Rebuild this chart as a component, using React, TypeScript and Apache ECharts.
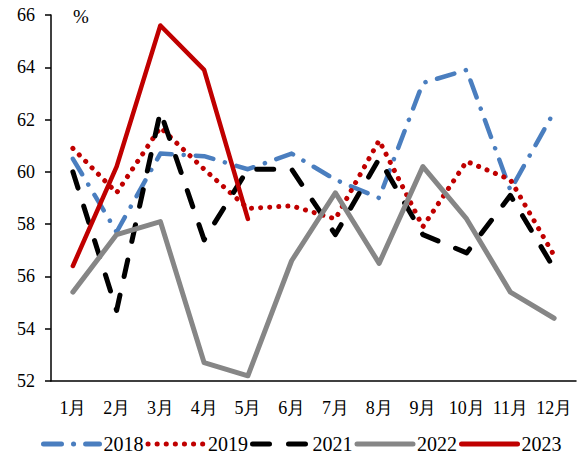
import React, { useEffect, useRef } from "react";
import * as echarts from "echarts";

const months = ["1月", "2月", "3月", "4月", "5月", "6月", "7月", "8月", "9月", "10月", "11月", "12月"];
const s2018 = [60.5, 57.7, 60.7, 60.6, 60.1, 60.7, 59.7, 59.0, 63.4, 63.9, 59.3, 62.3];
const s2019 = [60.9, 59.2, 61.7, 60.1, 58.6, 58.7, 58.2, 61.2, 57.9, 60.4, 59.7, 56.8];
const s2021 = [60.0, 54.7, 62.3, 57.4, 60.1, 60.1, 57.6, 60.5, 57.6, 56.9, 59.1, 56.3];
const s2022 = [55.4, 57.6, 58.1, 52.7, 52.2, 56.6, 59.2, 56.5, 60.2, 58.2, 55.4, 54.4];
const s2023 = [56.4, 60.2, 65.6, 63.9, 58.2];

const FONT = "Liberation Serif";

export default function App() {
  const ref = useRef<HTMLDivElement>(null);
  useEffect(() => {
    document.body.style.margin = "0";
    const chart = echarts.init(ref.current!, null, { renderer: "svg" });
    const line = (name: string, data: number[], color: string, width: number, type: any) => ({
      name,
      type: "line",
      data,
      symbol: "none",
      lineStyle: { color, width, type, cap: "round", join: "round" },
      itemStyle: { color },
    });
    chart.setOption({
      animation: false,
      textStyle: { fontFamily: FONT },
      grid: { left: 51, right: 3, top: 15, bottom: 78 },
      xAxis: {
        type: "category",
        data: months,
        boundaryGap: true,
        axisLine: { lineStyle: { color: "#000", width: 1.5 } },
        axisTick: { length: 6, lineStyle: { color: "#000", width: 1.5 } },
        axisLabel: { color: "#000", fontSize: 18, fontFamily: FONT, margin: 18, interval: 0 },
      },
      yAxis: {
        type: "value",
        min: 52,
        max: 66,
        interval: 2,
        axisLine: { show: true, lineStyle: { color: "#000", width: 1.5 } },
        axisTick: { show: true, length: 6, lineStyle: { color: "#000", width: 1.5 } },
        axisLabel: { color: "#000", fontSize: 18, fontFamily: FONT, margin: 16 },
        splitLine: { show: false },
      },
      legend: {
        top: 434,
        left: 41,
        padding: [0, 0, 0, 0],
        itemWidth: 56,
        itemHeight: 6,
        itemGap: 2,
        itemStyle: { opacity: 0 },
        lineStyle: { width: 5, cap: "round" },
        textStyle: { color: "#000", fontSize: 20, fontFamily: FONT, padding: [0, 0, 0, -1] },
        data: ["2018", "2019", "2021", "2022", "2023"],
      },
      graphic: [
        { type: "text", left: 73, top: 7, style: { text: "%", fontSize: 19, fontFamily: FONT, fill: "#000" } },
      ],
      series: [
        line("2018", s2018, "#4a7ebf", 4.5, [18, 12, 0.1, 12]),
        line("2019", s2019, "#c00000", 5, [0.1, 9]),
        line("2021", s2021, "#000000", 5, [17, 19]),
        line("2022", s2022, "#868686", 5, "solid"),
        line("2023", s2023, "#c00000", 4.5, "solid"),
      ],
    });
    return () => chart.dispose();
  }, []);
  return <div ref={ref} style={{ width: 579, height: 459 }} />;
}
